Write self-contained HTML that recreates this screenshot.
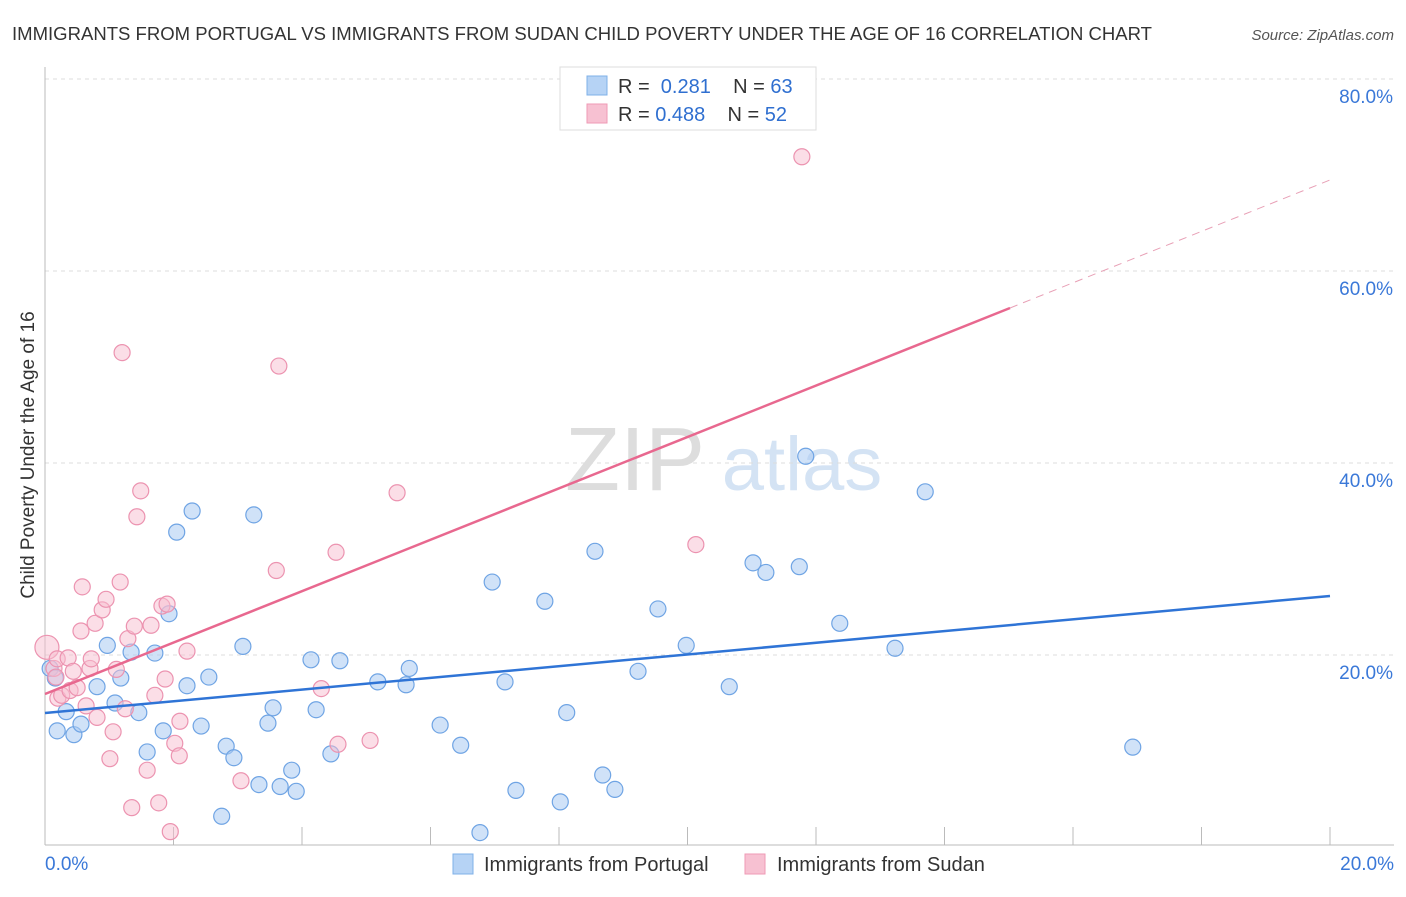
<!DOCTYPE html>
<html><head><meta charset="utf-8"><style>
body{margin:0;background:#fff;font-family:"Liberation Sans",sans-serif;}
svg text{font-family:"Liberation Sans",sans-serif;}
</style></head><body>
<svg id="c" width="1406" height="892" viewBox="0 0 1406 892" xmlns="http://www.w3.org/2000/svg">
<text x="12" y="40" font-size="18" fill="#333" textLength="1140" lengthAdjust="spacingAndGlyphs">IMMIGRANTS FROM PORTUGAL VS IMMIGRANTS FROM SUDAN CHILD POVERTY UNDER THE AGE OF 16 CORRELATION CHART</text>
<text x="1394" y="40" font-size="15" fill="#555" font-style="italic" text-anchor="end">Source: ZipAtlas.com</text>
<text x="34" y="455" font-size="19" fill="#333" transform="rotate(-90 34 455)" text-anchor="middle">Child Poverty Under the Age of 16</text>
<g><text x="635" y="490" font-size="90" font-family="Liberation Serif" fill="#ddd" text-anchor="middle">ZIP</text><text x="802" y="490" font-size="76" fill="#d4e3f4" text-anchor="middle">atlas</text></g>
<g id="grid"></g><g id="marks"></g>
<g>
<rect x="560" y="67" width="256" height="63" fill="#fff" stroke="#ddd"/>
<rect x="587" y="76" width="20" height="19" fill="#b6d3f5" stroke="#7fb0e8"/>
<rect x="587" y="104" width="20" height="19" fill="#f7c1d2" stroke="#ef9ab5"/>
<text x="618" y="93" font-size="20" fill="#333">R = <tspan fill="#2f6fd0">&#160;0.281</tspan>&#160;&#160;&#160;&#160;N = <tspan fill="#2f6fd0">63</tspan></text>
<text x="618" y="121" font-size="20" fill="#333">R = <tspan fill="#2f6fd0">0.488</tspan>&#160;&#160;&#160;&#160;N = <tspan fill="#2f6fd0">52</tspan></text>
</g>
<g>
<rect x="453" y="854" width="20" height="20" fill="#b6d3f5" stroke="#7fb0e8"/>
<text x="484" y="871" font-size="20" fill="#333">Immigrants from Portugal</text>
<rect x="745" y="854" width="20" height="20" fill="#f7c1d2" stroke="#ef9ab5"/>
<text x="777" y="871" font-size="20" fill="#333">Immigrants from Sudan</text>
</g>
</svg>
<script>
const blueX=[0.19,0.45,0.33,0.56,0.81,0.97,1.09,1.18,1.34,1.46,1.59,1.71,1.84,1.93,2.05,2.21,2.29,2.43,2.55,2.75,2.82,2.94,3.08,3.25,3.33,3.47,3.55,3.66,3.84,3.91,4.14,4.22,4.45,4.59,5.18,5.62,5.67,6.15,6.47,6.77,6.96,7.16,7.33,7.78,8.02,8.12,8.56,8.68,8.87,9.23,9.54,9.98,10.65,11.02,11.22,11.74,11.84,12.37,13.23,13.70,16.93,0.08,0.16];
const blueY=[12.1,11.7,14.1,12.8,16.7,21.0,15.0,17.6,20.3,14.0,9.9,20.2,12.1,24.3,32.8,16.8,35.0,12.6,17.7,3.2,10.5,9.3,20.9,34.6,6.5,12.9,14.5,6.3,8.0,5.8,19.5,14.3,9.7,19.4,17.2,16.9,18.6,12.7,10.6,1.5,27.6,17.2,5.9,25.6,4.7,14.0,30.8,7.5,6.0,18.3,24.8,21.0,16.7,29.6,28.6,29.2,40.7,23.3,20.7,37.0,10.4,18.6,17.6];
const pinkX=[0.03,0.14,0.17,0.19,0.20,0.26,0.36,0.39,0.44,0.50,0.56,0.58,0.64,0.70,0.72,0.78,0.81,0.89,0.95,1.01,1.06,1.11,1.17,1.20,1.25,1.29,1.35,1.39,1.43,1.49,1.59,1.65,1.71,1.77,1.82,1.87,1.90,1.95,2.02,2.09,2.10,2.21,3.05,3.60,3.64,4.30,4.53,4.56,5.06,5.48,10.13,11.78];
const pinkY=[20.8,18.6,17.7,19.6,15.5,15.8,19.7,16.3,18.3,16.6,22.5,27.1,14.7,18.6,19.6,23.3,13.5,24.7,25.8,9.2,12.0,18.5,27.6,51.5,14.4,21.7,4.1,23.0,34.4,37.1,8.0,23.1,15.8,4.6,25.1,17.5,25.3,1.6,10.8,9.5,13.1,20.4,6.9,28.8,50.1,16.5,30.7,10.7,11.1,36.9,31.5,71.9];
const blueLine=[13.96,26.15];
const pinkLine=[15.94,69.48];
const yTicks=[20,40,60,80];
const xTicks=[0,2,4,6,8,10,12,14,16,18,20];
const NS="http://www.w3.org/2000/svg";
const sx=v=>45+v*64.25, sy=v=>847-v*9.6;
function mk(t,a,p){const e=document.createElementNS(NS,t);for(const k in a)e.setAttribute(k,a[k]);p.appendChild(e);return e;}
const g=document.getElementById('grid'),m=document.getElementById('marks');
yTicks.forEach(v=>{
 const l=mk('line',{x1:45,x2:1394,y1:sy(v),y2:sy(v),stroke:'#ddd','stroke-dasharray':'4 4'},g);
 
 
 const t=mk('text',{x:1393,y:sy(v)+24,'font-size':19,fill:'#3a78d8','text-anchor':'end'},g);t.textContent=v.toFixed(1)+'%';
 
 
});
const ax=mk('line',{x1:45,x2:45,y1:67,y2:845,stroke:'#bbb'},g);


const bx=mk('line',{x1:45,x2:1394,y1:845,y2:845,stroke:'#bbb'},g);


xTicks.forEach(v=>{const l=mk('line',{x1:sx(v),x2:sx(v),y1:827,y2:845,stroke:'#bbb'},g);
 
 });
[[0,'start',45],[20,'end',1394]].forEach(([v,a,x])=>{const t=mk('text',{x:x,y:870,'font-size':19,fill:'#3a78d8','text-anchor':a},g);t.textContent=v.toFixed(1)+'%';
 
 });
blueX.forEach((x,i)=>{const c=mk('circle',{cx:sx(x),cy:sy(blueY[i]),r:8,fill:'rgba(170,203,243,0.55)',stroke:'#6fa4e4','stroke-width':1.2},m);
 
 });
pinkX.forEach((x,i)=>{const c=mk('circle',{cx:sx(x),cy:sy(pinkY[i]),r:i==0?12:8,fill:'rgba(247,190,208,0.5)',stroke:'#ec93b0','stroke-width':1.2},m);
 
 });
const bl=mk('line',{x1:sx(0),y1:sy(blueLine[0]),x2:sx(20),y2:sy(blueLine[1]),stroke:'#2f74d6','stroke-width':2.5},m);


const f=15.02/20, pm=pinkLine[0]+(pinkLine[1]-pinkLine[0])*f;
const pl=mk('line',{x1:sx(0),y1:sy(pinkLine[0]),x2:sx(15.02),y2:sy(pm),stroke:'#e8688f','stroke-width':2.5},m);


const pd=mk('line',{x1:sx(15.02),y1:sy(pm),x2:sx(20),y2:sy(pinkLine[1]),stroke:'#e8a0b6','stroke-width':1,'stroke-dasharray':'8 6'},m);


</script>
</body></html>
